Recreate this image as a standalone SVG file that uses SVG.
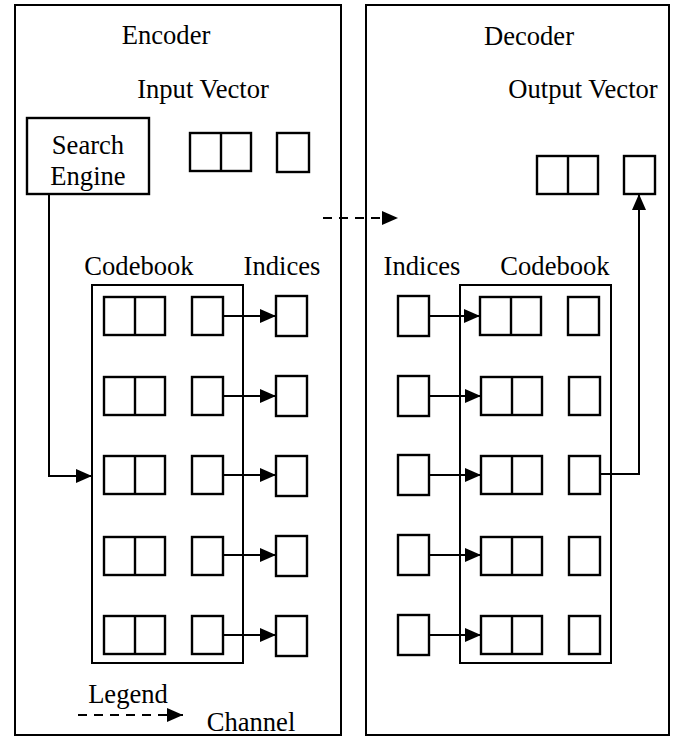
<svg xmlns="http://www.w3.org/2000/svg" width="676" height="736" viewBox="0 0 676 736">
<defs>
<style>
.t{font-family:'Liberation Serif','Times New Roman',Tinos,'DejaVu Serif',serif;font-size:26.6px;fill:#000;text-anchor:middle}
.b{fill:#fff;stroke:#000;stroke-width:2.4}
.o{fill:none;stroke:#000;stroke-width:2}
.c{fill:none;stroke:#000;stroke-width:2}
.d{fill:none;stroke:#000;stroke-width:2;stroke-dasharray:9,7}
</style>
<marker id="ah" markerUnits="userSpaceOnUse" markerWidth="18" markerHeight="16" refX="16" refY="7" orient="auto">
<path d="M0,0 L16,7 L0,14 Z" fill="#000"/>
</marker>
<g id="dbl"><rect class="b" x="0" y="0" width="61" height="38"/><line x1="31" y1="0" x2="31" y2="38" stroke="#000" stroke-width="2.4"/></g>
</defs>
<rect width="676" height="736" fill="#fff"/>

<g id="encoder">
<rect class="o" x="15" y="5" width="326" height="730"/>
<text class="t" x="166" y="44">Encoder</text>
</g>
<g id="decoder">
<rect class="o" x="366" y="5" width="303" height="730"/>
<text class="t" x="529" y="45">Decoder</text>
</g>

<g id="input-vector">
<text class="t" x="203" y="98">Input Vector</text>
<use href="#dbl" x="190" y="133"/>
<rect class="b" x="277" y="133" width="32" height="39"/>
</g>

<g id="search-engine">
<rect class="b" x="27" y="118" width="122" height="76"/>
<text class="t" x="88" y="154">Search</text>
<text class="t" x="88" y="185">Engine</text>
</g>

<g id="output-vector">
<text class="t" x="583" y="98">Output Vector</text>
<use href="#dbl" x="537" y="156"/>
<rect class="b" x="624" y="156" width="31" height="38"/>
</g>

<g id="enc-codebook">
<text class="t" x="139" y="275">Codebook</text>
<rect class="o" x="92" y="285" width="151" height="378"/>
<use href="#dbl" x="104" y="297"/><rect class="b" x="192" y="297" width="31" height="38"/>
<use href="#dbl" x="104" y="377"/><rect class="b" x="192" y="377" width="31" height="38"/>
<use href="#dbl" x="104" y="456"/><rect class="b" x="192" y="456" width="31" height="38"/>
<use href="#dbl" x="104" y="537"/><rect class="b" x="192" y="537" width="31" height="38"/>
<use href="#dbl" x="104" y="616"/><rect class="b" x="192" y="616" width="31" height="38"/>
</g>

<g id="enc-indices">
<text class="t" x="282" y="275">Indices</text>
<rect class="b" x="276" y="296" width="31" height="40"/>
<rect class="b" x="276" y="376" width="31" height="40"/>
<rect class="b" x="276" y="456" width="31" height="40"/>
<rect class="b" x="276" y="536" width="31" height="40"/>
<rect class="b" x="276" y="616" width="31" height="40"/>
</g>

<g id="dec-indices">
<text class="t" x="422" y="275">Indices</text>
<rect class="b" x="398" y="296" width="31" height="40"/>
<rect class="b" x="398" y="376" width="31" height="40"/>
<rect class="b" x="398" y="455" width="31" height="40"/>
<rect class="b" x="398" y="535" width="31" height="40"/>
<rect class="b" x="398" y="615" width="31" height="40"/>
</g>

<g id="dec-codebook">
<text class="t" x="555" y="275">Codebook</text>
<rect class="o" x="460" y="285" width="151" height="378"/>
<use href="#dbl" x="480" y="297"/><rect class="b" x="568" y="297" width="31" height="38"/>
<use href="#dbl" x="481" y="377"/><rect class="b" x="569" y="377" width="31" height="38"/>
<use href="#dbl" x="481" y="456"/><rect class="b" x="569" y="456" width="31" height="38"/>
<use href="#dbl" x="481" y="537"/><rect class="b" x="569" y="537" width="31" height="38"/>
<use href="#dbl" x="481" y="616"/><rect class="b" x="569" y="616" width="31" height="38"/>
</g>

<g id="legend">
<text class="t" x="128" y="703">Legend</text>
<text class="t" x="251" y="731">Channel</text>
</g>

<g id="connectors">
<path class="c" d="M49,194 V476 H92" marker-end="url(#ah)"/>
<path class="c" d="M223,316 H276" marker-end="url(#ah)"/>
<path class="c" d="M224,396 H276" marker-end="url(#ah)"/>
<path class="c" d="M224,475 H276" marker-end="url(#ah)"/>
<path class="c" d="M224,555 H276" marker-end="url(#ah)"/>
<path class="c" d="M224,635 H276" marker-end="url(#ah)"/>
<path class="c" d="M429,316 H480" marker-end="url(#ah)"/>
<path class="c" d="M429,396 H481" marker-end="url(#ah)"/>
<path class="c" d="M429,475 H481" marker-end="url(#ah)"/>
<path class="c" d="M429,555 H481" marker-end="url(#ah)"/>
<path class="c" d="M429,635 H481" marker-end="url(#ah)"/>
<path class="c" d="M600,474 H639 V194" marker-end="url(#ah)"/>
<path class="d" d="M323,218 H398" marker-end="url(#ah)"/>
<path class="d" d="M78,715 H183" marker-end="url(#ah)"/>
</g>
</svg>
